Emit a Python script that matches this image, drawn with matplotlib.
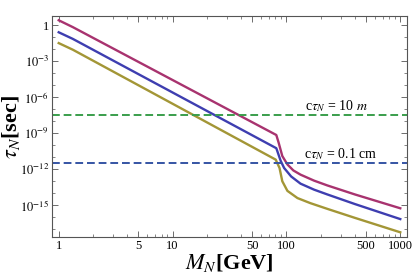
import numpy as np
import matplotlib
matplotlib.use('Agg')
import matplotlib.pyplot as plt
from matplotlib.ticker import FixedLocator, NullFormatter

plt.rcParams['font.family'] = ['Liberation Serif', 'DejaVu Serif']
plt.rcParams['mathtext.fontset'] = 'stix'

# heavy neutrino lifetime curves (log10 of tau in sec)
m_red = [1, 1.33, 81.5, 85.5, 92, 102, 115, 133, 175, 229, 400, 1000]
logtau_red = [0.4, -0.17, -9.15, -9.8, -10.9, -11.6, -12.1, -12.45, -12.95, -13.35, -14.1, -15.25]

m_blue = [1, 1.33, 81.5, 89, 95.5, 110, 133, 175, 229, 400, 1000]
logtau_blue = [-0.6, -1.15, -10.25, -11.3, -11.9, -12.6, -13.2, -13.7, -14.1, -14.9, -16.15]

m_olive = [1, 1.33, 80.5, 87, 92, 102, 125, 162, 229, 400, 1000]
logtau_olive = [-1.5, -2.05, -11.2, -11.9, -13.0, -13.8, -14.4, -14.82, -15.3, -16.05, -17.25]

# decay length reference lines
tau_10m = 3.336e-8
tau_01cm = 3.336e-12

x_ticks = [1, 5, 10, 50, 100, 500, 1000]
x_ticklabels = ['1', '5', '10', '50', '100', '500', '1000']
y_ticks = [1, 1e-3, 1e-6, 1e-9, 1e-12, 1e-15]
y_ticklabels = ['1', '$10^{-3}$', '$10^{-6}$', '$10^{-9}$', '$10^{-12}$', '$10^{-15}$']

fig = plt.figure(figsize=(4.15, 2.77), dpi=100)
ax = fig.add_axes([0.125, 0.144, 0.856, 0.798])

ax.plot(m_red, 10 ** np.array(logtau_red), color='#a8336f', lw=1.7)
ax.plot(m_blue, 10 ** np.array(logtau_blue), color='#3e3eb0', lw=1.7)
ax.plot(m_olive, 10 ** np.array(logtau_olive), color='#a39636', lw=1.7)

ax.axhline(tau_10m, color='#3a9e4c', lw=1.4, ls=(0, (4, 2)))
ax.axhline(tau_01cm, color='#3554a4', lw=1.4, ls=(0, (4, 2)))

ax.text(275, tau_10m * 10 ** 0.75, r'c$\tau_N$ = 10 $m$', fontsize=10,
        ha='center', va='center')
ax.text(300, tau_01cm * 10 ** 0.75, r'c$\tau_N$ = 0.1 cm', fontsize=10,
        ha='center', va='center')

ax.set_xscale('log')
ax.set_yscale('log')
ax.set_xlim(10 ** -0.06, 10 ** 3.06)
ax.set_ylim(10 ** -17.65, 10 ** 0.75)

ax.xaxis.set_major_locator(FixedLocator(x_ticks))
ax.set_xticklabels(x_ticklabels)
minor_x = [d * k for d in [1, 10, 100] for k in range(2, 10) if k != 5]
ax.xaxis.set_minor_locator(FixedLocator(minor_x))
ax.xaxis.set_minor_formatter(NullFormatter())

ax.yaxis.set_major_locator(FixedLocator(y_ticks))
ax.set_yticklabels(y_ticklabels)
ax.yaxis.set_minor_locator(FixedLocator([10.0 ** e for e in range(-17, 1)]))
ax.yaxis.set_minor_formatter(NullFormatter())

ax.tick_params(which='both', direction='in', top=True, right=True,
               labelsize=9, pad=2, color='#555555')
ax.tick_params(which='major', length=4, width=0.6)
ax.tick_params(which='minor', length=2, width=0.5)
for s in ax.spines.values():
    s.set_color('#555555')
    s.set_linewidth(0.8)

ax.set_xlabel(r'$\boldsymbol{M_N}$[GeV]', fontsize=16, fontweight='bold', labelpad=0)
ax.set_ylabel(r'$\boldsymbol{\tau_N}$[sec]', fontsize=16, fontweight='bold')
ax.yaxis.set_label_coords(-0.085, 0.5)

fig.savefig('out.png', dpi=100)
